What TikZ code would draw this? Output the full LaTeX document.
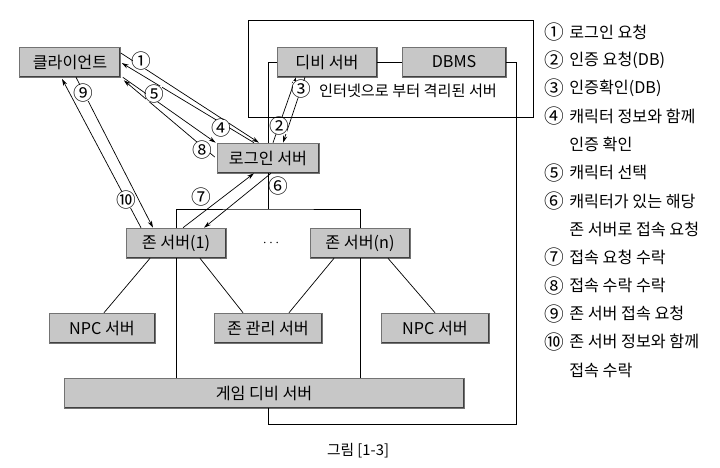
\documentclass[tikz,border=0pt]{standalone}
\usepackage{fontspec}
\setmainfont{Noto Sans CJK KR}
\usetikzlibrary{arrows.meta,calc}
\tikzset{
    server/.style={
        draw=black!55,
        fill=black!22,
        minimum height=0.75cm,
        inner sep=0pt,
        font=\fontsize{11.5}{13}\selectfont,
        path picture={
            \draw[black!75, line width=1.6pt]
                (path picture bounding box.south west) --
                (path picture bounding box.south east) --
                (path picture bounding box.north east);
        }
    },
    num/.style={
        fill=white,
        inner sep=-1pt,
        font=\fontsize{14}{15}\selectfont
    },
    msg/.style={
        -{Stealth[length=5pt,width=3pt]},
        line width=0.5pt
    },
    wire/.style={
        line width=0.5pt
    },
    legend/.style={
        anchor=west,
        inner sep=0pt,
        font=\fontsize{11.5}{13}\selectfont
    }
}

\begin{document}
\begin{tikzpicture}[x=0.025cm, y=-0.025cm]
\useasboundingbox (0,0) rectangle (720,467);

% frame of the isolated servers
\node[draw, wire, minimum width=7.125cm, minimum height=2.425cm] (isolated) at (390.5,68.5) {};
\node[font=\fontsize{10.8}{12}\selectfont] (isotext) at (408,91) {인터넷으로 부터 격리된 서버};

% servers
\node[server, minimum width=2.525cm] (client) at (70,62) {클라이언트};
\node[server, minimum width=2.5cm] (dbsrv) at (327,62) {디비 서버};
\node[server, minimum width=2.6cm] (dbms) at (454,62) {DBMS};
\node[server, minimum width=2.55cm] (login) at (268,158) {로그인 서버};
\node[server, minimum width=2.5cm] (zone1) at (176,243) {존 서버(1)};
\node[server, minimum width=2.5cm] (zonen) at (360,243) {존 서버(n)};
\node (dots) at (271,243) {$\cdots$};
\node[server, minimum width=2.65cm] (npcA) at (102,328) {NPC 서버};
\node[server, minimum width=2.7cm] (zmgr) at (268,328) {존 관리 서버};
\node[server, minimum width=2.7cm] (npcB) at (435,328) {NPC 서버};
\node[server, minimum width=10cm] (gamedb) at (264,393) {게임 디비 서버};

% plain links
\coordinate (split) at (268,209);
\coordinate (loopc) at (516,424);
\draw[wire] (dbsrv.east) -- (dbms.west);
\draw[wire] (dbsrv.west) -| (login.north);
\draw[wire] (dbms.east) -| (loopc) -| ($(gamedb.south)+(4,0)$);
\draw[wire] (login.south) -- (split);
\draw[wire] (zone1.north) |- (split) -| (zonen.north);
\draw[wire] (zone1.south) -- (zone1.south |- gamedb.north);
\draw[wire] (zonen.south) -- (zonen.south |- gamedb.north);
\draw[wire] ($(npcA.north)+(2,0)$) -- ($(zone1.south)+(-26,0)$);
\draw[wire] ($(zmgr.north)+(-25,0)$) -- ($(zone1.south)+(24,0)$);
\draw[wire] ($(zmgr.north)+(21,0)$) -- ($(zonen.south)+(-26,0)$);
\draw[wire] (npcB.north) -- ($(zonen.south)+(28,0)$);

% messages
\draw[msg] ($(client.east)+(0,-9)$) -- ($(login.north)+(-9,0)$);
\draw[msg] ($(login.north)+(5,0)$) -- ($(dbsrv.south)+(-31,0)$);
\draw[msg] ($(dbsrv.south)+(-22,0)$) -- ($(login.north)+(15,0)$);
\draw[msg] ($(login.north)+(-14,0)$) -- ($(client.east)+(1,1)$);
\draw[msg] ($(client.south east)+(2,0)$) -- ($(login.north west)+(-1,0)$);
\draw[msg] ($(login.south)+(3,0)$) -- ($(zone1.north)+(28,0)$);
\draw[msg] ($(zone1.north)+(7,0)$) -- ($(login.south)+(-14,0)$);
\draw[msg] ($(login.west)+(-2,-1)$) -- ($(client.south east)+(3,3)$);
\draw[msg] ($(client.south)+(6,0)$) -- ($(zone1.north)+(-23,0)$);
\draw[msg] ($(zone1.north)+(-35,0)$) -- ($(client.south)+(-8,1.5)$);

% message numbers
\foreach \c/\px/\py [count=\i] in {①/141/61, ②/279/126, ③/301/89, ④/221/128, ⑤/154/94,
    ⑥/278/186, ⑦/201/197, ⑧/202/150, ⑨/83/93, ⑩/126/200}
    \node[num] (n\i) at (\px,\py) {\c};

% key
\foreach \txt [count=\k from 0] in {로그인 요청, 인증 요청(DB), 인증확인(DB), 캐릭터 정보와 함께,
    인증 확인, 캐릭터 선택, 캐릭터가 있는 해당, 존 서버로 접속 요청, 접속 요청 수락,
    접속 수락 수락, 존 서버 접속 요청, 존 서버 정보와 함께, 접속 수락}
    \node[legend] (key\k) at (569,{32+28.17*\k}) {\txt};
\foreach \c/\k in {①/0, ②/1, ③/2, ④/3, ⑤/5, ⑥/6, ⑦/8, ⑧/9, ⑨/10, ⑩/11}
    \node[font=\fontsize{14}{15}\selectfont, inner sep=0pt] (keynum\k) at ($(key\k.west)+(-15,0)$) {\c};

\node[font=\fontsize{10.5}{12}\selectfont] (caption) at (358,451) {그림 [1-3]};

\end{tikzpicture}
\end{document}
